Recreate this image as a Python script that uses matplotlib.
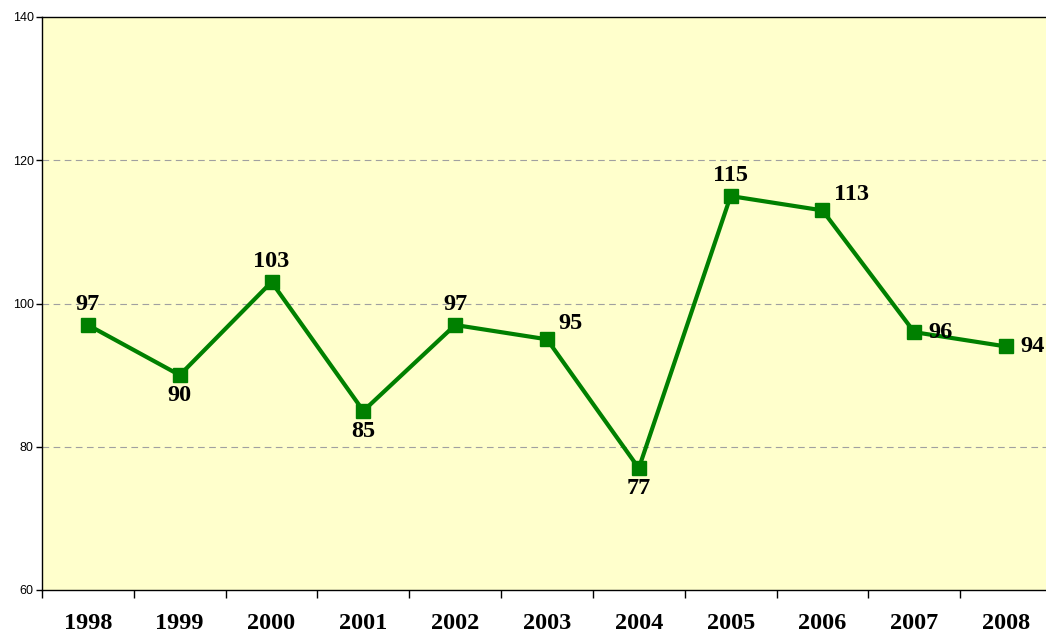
import matplotlib
matplotlib.use("Agg")
import matplotlib.pyplot as plt
import numpy as np

years = ["1998", "1999", "2000", "2001", "2002", "2003", "2004", "2005", "2006", "2007", "2008"]
values = [97, 90, 103, 85, 97, 95, 77, 115, 113, 96, 94]
label_pos = ["above", "below", "above", "below", "above", "aboveright", "below", "above", "aboveright", "right", "right"]

fig = plt.figure(figsize=(10.46, 6.35), dpi=100)
W, H = 1046, 635
ax = fig.add_axes([42 / W, (H - 590) / H, 1010 / W, 573 / H])
ax.set_facecolor("#FFFFCC")

x = np.arange(len(years))
ax.plot(x, values, color="#008000", lw=3, marker="s", ms=10, mfc="#008000", mec="#008000", zorder=3, clip_on=False)

ax.set_xlim(-0.5, len(years) - 0.5)
ax.set_ylim(60, 140)
ax.set_yticks([60, 80, 100, 120, 140])
for yv in [80, 100, 120]:
    ax.axhline(yv, color="#A0A0A0", lw=0.8, ls=(0, (6, 4)), zorder=1)

ax.set_xticks(np.arange(-0.5, len(years) - 0.5 + 0.01, 1))
ax.set_xticklabels([])
ax.tick_params(axis="x", length=6, width=1, direction="out")
ax.tick_params(axis="y", length=4, width=1, direction="out", labelsize=9, pad=2)
for lbl in ax.get_yticklabels():
    lbl.set_fontfamily("Liberation Sans")

for i, y in enumerate(years):
    ax.text(i, -0.058, y, transform=ax.get_xaxis_transform(), ha="center", va="center",
            fontsize=17.5, fontweight="bold", fontfamily="Liberation Serif")

offsets = {"above": (0, 7, "center", "bottom"), "below": (0, -7, "center", "top"),
           "aboveright": (8, 4, "left", "bottom"), "right": (10, 0, "left", "center")}
for i, (v, p) in enumerate(zip(values, label_pos)):
    dx, dy, ha, va = offsets[p]
    ax.annotate(str(v), (i, v), xytext=(dx, dy), textcoords="offset points", ha=ha, va=va,
                fontsize=17.5, fontweight="bold", fontfamily="Liberation Serif", zorder=4)

for s in ["left", "bottom", "top"]:
    ax.spines[s].set_color("black")
    ax.spines[s].set_linewidth(1)
ax.spines["right"].set_visible(False)

fig.savefig("out.png", dpi=100)
